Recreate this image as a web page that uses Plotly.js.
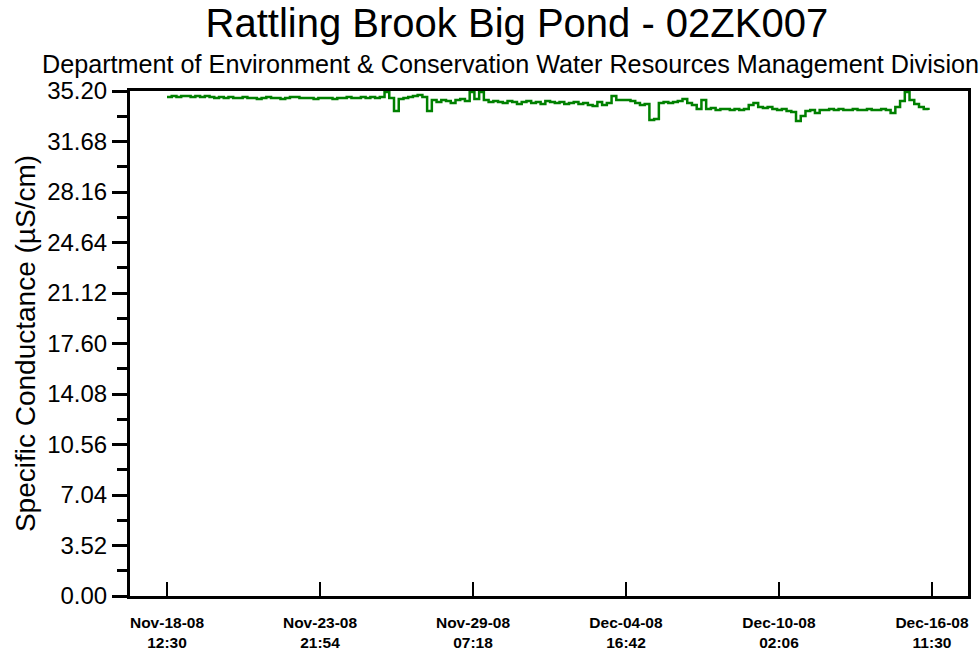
<!DOCTYPE html>
<html>
<head>
<meta charset="utf-8">
<script src="https://cdn.plot.ly/plotly-3.0.1.min.js"></script>
<style>html,body{margin:0;padding:0;background:#fff;}#chart{width:979px;height:656px;}</style>
</head>
<body>
<div id="chart"></div>
<script>
// Readings every 4 hours starting Nov-18-08 12:30
const startTime = '2008-11-18T12:30:00';
const stepHours = 4;
const conductance = [
  34.78, 34.85, 34.78, 34.85, 34.85, 34.78, 34.85, 34.78, 34.85, 34.78, 34.71,
  34.78, 34.71, 34.78, 34.71, 34.71, 34.78, 34.71, 34.71, 34.64, 34.71, 34.78, 34.71, 34.71, 34.64, 34.71, 34.78,
  34.78, 34.71, 34.71, 34.71, 34.64, 34.71, 34.71, 34.71, 34.64, 34.71, 34.71, 34.78, 34.71, 34.71, 34.78, 34.71, 34.78, 34.71, 34.78,
  35.13, 34.71, 33.81, 34.64,
  34.71, 34.78, 34.85, 34.92,
  34.78, 33.81, 34.57,
  34.43, 34.57, 34.50, 34.36, 34.57, 34.64, 34.50,
  35.13, 34.64, 35.13, 34.57,
  34.43, 34.50, 34.43, 34.36, 34.50, 34.43, 34.29, 34.43, 34.50, 34.36, 34.43, 34.29, 34.50, 34.43,
  34.36, 34.43, 34.29, 34.36, 34.43, 34.29, 34.36, 34.22, 34.15, 34.43, 34.22, 34.36,
  34.85, 34.57, 34.57, 34.57, 34.50,
  34.36, 34.22, 34.29,
  33.18, 33.25, 34.36,
  34.43, 34.36, 34.43, 34.50,
  34.64, 34.36, 34.22, 33.95, 34.57, 33.95, 34.02, 33.88, 33.95, 33.95, 33.88, 33.95, 33.88, 33.95,
  34.22, 34.36, 34.08, 34.02, 34.08, 33.95, 33.88, 33.95, 33.81, 33.74, 33.11, 33.46, 33.81,
  33.88, 33.67, 33.88,
  33.88, 33.95, 33.88, 33.95, 33.88, 33.88, 33.95, 33.88, 33.88, 33.95, 33.88, 33.88, 33.95, 33.88,
  33.67, 34.08, 34.50, 35.13, 34.57, 34.29, 34.08, 33.95, 33.88
];
const xTickVals = ['2008-11-18 12:30', '2008-11-23 21:54', '2008-11-29 07:18', '2008-12-04 16:42', '2008-12-10 02:06', '2008-12-15 11:30'];
const xTickText = ['Nov-18-08<br>12:30', 'Nov-23-08<br>21:54', 'Nov-29-08<br>07:18', 'Dec-04-08<br>16:42', 'Dec-10-08<br>02:06', 'Dec-16-08<br>11:30'];
const yTickVals = [0, 3.52, 7.04, 10.56, 14.08, 17.60, 21.12, 24.64, 28.16, 31.68, 35.20];
const yTickText = ['0.00', '3.52', '7.04', '10.56', '14.08', '17.60', '21.12', '24.64', '28.16', '31.68', '35.20'];
const xRange = ['2008-11-17 05:13', '2008-12-16 17:57'];
const yRange = [0, 35.2];

function pad(n){return (n<10?'0':'')+n;}
const t0 = new Date(startTime + 'Z').getTime();
const times = conductance.map((v, i) => {
  const d = new Date(t0 + i * stepHours * 3600000);
  return d.getUTCFullYear() + '-' + pad(d.getUTCMonth()+1) + '-' + pad(d.getUTCDate()) + ' ' + pad(d.getUTCHours()) + ':' + pad(d.getUTCMinutes());
});

const trace = {
  x: times, y: conductance, type: 'scatter', mode: 'lines',
  line: {color: '#008000', width: 2.5, shape: 'hv'},
  hoverinfo: 'x+y'
};

const layout = {
  width: 979, height: 656,
  margin: {l: 130, r: 11, t: 91, b: 60},
  paper_bgcolor: '#ffffff', plot_bgcolor: '#ffffff',
  showlegend: false,
  font: {family: 'Liberation Sans, Arial, sans-serif', color: '#000'},
  title: {
    text: 'Rattling Brook Big Pond - 02ZK007',
    font: {size: 40, color: '#000', family: 'Liberation Sans, Arial, sans-serif'},
    x: 0.528, xanchor: 'center', xref: 'container',
    y: 1 - 23/656, yanchor: 'middle', yref: 'container'
  },
  annotations: [{
    text: 'Department of Environment &amp; Conservation Water Resources Management Division',
    xref: 'paper', yref: 'paper', x: (510-130)/838, y: (596-64)/505,
    xanchor: 'center', yanchor: 'middle', showarrow: false,
    font: {size: 25.2, color: '#000', family: 'Liberation Sans, Arial, sans-serif'}
  }],
  xaxis: {
    type: 'date', range: xRange,
    tickvals: xTickVals, ticktext: xTickText,
    ticks: 'inside', ticklen: 14, tickwidth: 2, tickcolor: '#000',
    showline: true, linecolor: '#000', linewidth: 3, mirror: true,
    showgrid: false, zeroline: false,
    tickfont: {size: 15.5, color: '#000', family: 'Liberation Sans, Arial, sans-serif', weight: 'bold'},
    ticklabelstandoff: 10
  },
  yaxis: {
    range: yRange,
    tickvals: yTickVals, ticktext: yTickText,
    ticks: 'outside', ticklen: 15, tickwidth: 3, tickcolor: '#000',
    minor: {dtick: 1.76, tick0: 0, ticks: 'outside', ticklen: 10, tickwidth: 3, tickcolor: '#000', showgrid: false},
    showline: true, linecolor: '#000', linewidth: 3, mirror: true,
    showgrid: false, zeroline: false,
    tickfont: {size: 24, color: '#000'},
    title: {text: 'Specific Conductance (µS/cm)', font: {size: 28, color: '#000'}, standoff: 4}
  }
};

Plotly.newPlot('chart', [trace], layout, {displayModeBar: false, staticPlot: true});
</script>
</body>
</html>
